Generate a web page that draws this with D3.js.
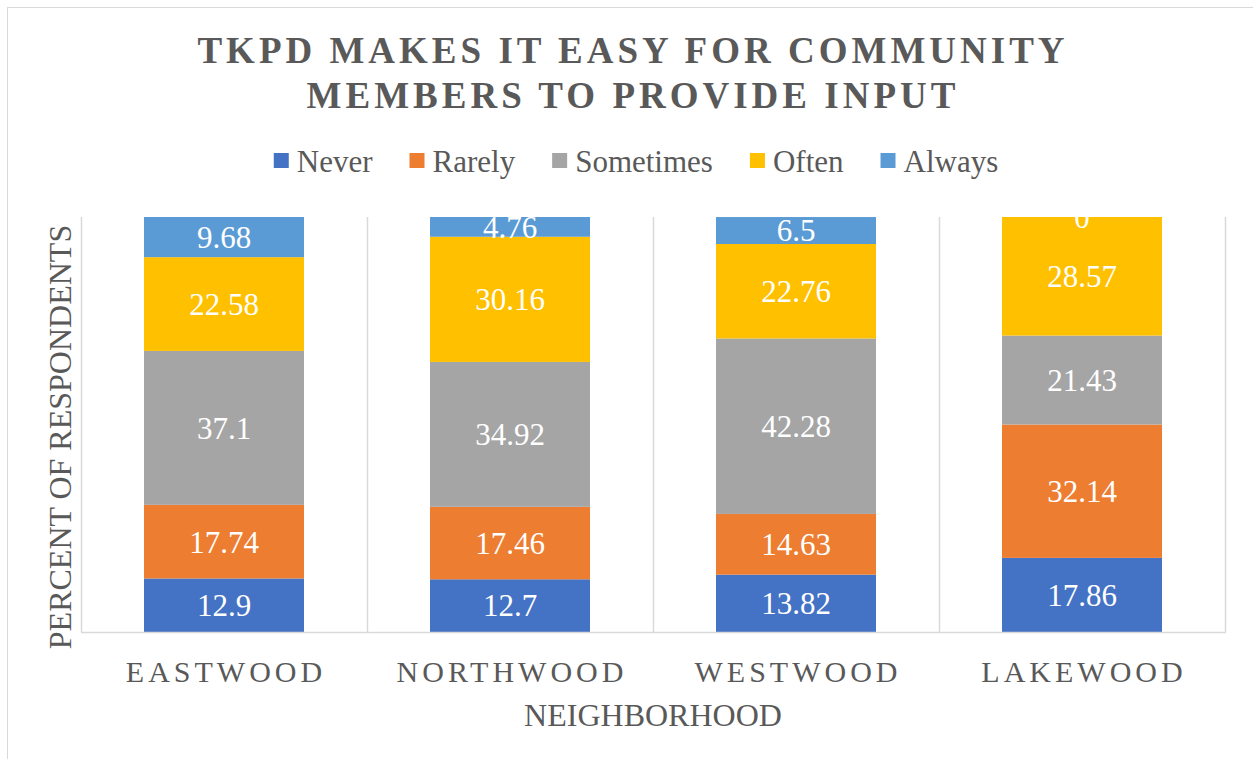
<!DOCTYPE html>
<html>
<head>
<meta charset="utf-8">
<script src="https://cdn.jsdelivr.net/npm/d3@7"></script>
<style>
  body { margin: 0; background: #fff; }
  text { font-family: "Liberation Serif", "Times New Roman", serif; }
</style>
</head>
<body>
<div id="chart"></div>
<script>
// data
var neighborhoods = ["EASTWOOD", "NORTHWOOD", "WESTWOOD", "LAKEWOOD"];
var responses = ["Never", "Rarely", "Sometimes", "Often", "Always"];
var never = [12.9, 12.7, 13.82, 17.86];
var rarely = [17.74, 17.46, 14.63, 32.14];
var sometimes = [37.1, 34.92, 42.28, 21.43];
var often = [22.58, 30.16, 22.76, 28.57];
var always = [9.68, 4.76, 6.5, 0];
var colors = ["#4472C4", "#ED7D31", "#A5A5A5", "#FFC000", "#5B9BD5"];

var width = 1253, height = 759;
var margin = {left: 81, right: 28, top: 217, bottom: 127};

// build rows for d3.stack
var seriesValues = [never, rarely, sometimes, often, always];
var rows = neighborhoods.map(function(n, i) {
    var r = {name: n};
    responses.forEach(function(k, j) { r[k] = seriesValues[j][i]; });
    return r;
});

var svg = d3.select("#chart").append("svg")
    .attr("width", width)
    .attr("height", height);

// chart area border
svg.append("rect")
    .attr("x", 7.5).attr("y", 7.5)
    .attr("width", width + 20).attr("height", height + 20)
    .attr("fill", "none")
    .attr("stroke", "#d9d9d9");

var x = d3.scaleBand()
    .domain(neighborhoods)
    .range([margin.left, width - margin.right]);

var y = d3.scaleLinear()
    .domain([0, 100])
    .range([height - margin.bottom, margin.top]);

// vertical gridlines at category boundaries
var bounds = neighborhoods.map(function(n) { return x(n); }).concat([x.range()[1]]);
svg.selectAll(".vgrid")
    .data(bounds)
    .enter()
    .append("line")
    .attr("x1", d => d + 0.5).attr("x2", d => d + 0.5)
    .attr("y1", y(100)).attr("y2", y(0))
    .attr("stroke", "#d9d9d9")
    .attr("stroke-width", 1.5);

var stacked = d3.stack().keys(responses)(rows);
var barW = 160;

var groups = svg.selectAll(".series")
    .data(stacked)
    .enter()
    .append("g")
    .attr("fill", (d, i) => colors[i]);

groups.selectAll("rect")
    .data(d => d)
    .enter()
    .append("rect")
    .attr("x", d => x(d.data.name) + (x.bandwidth() - barW) / 2)
    .attr("y", d => y(d[1]))
    .attr("width", barW)
    .attr("height", d => y(d[0]) - y(d[1]));

// category axis line
svg.append("line")
    .attr("x1", margin.left).attr("x2", x.range()[1] + 1)
    .attr("y1", y(0) + 0.5).attr("y2", y(0) + 0.5)
    .attr("stroke", "#d9d9d9")
    .attr("stroke-width", 1.5);

// data labels, clipped to the plot area
svg.append("clipPath").attr("id", "plotclip")
    .append("rect")
    .attr("x", margin.left).attr("y", y(100))
    .attr("width", x.range()[1] - margin.left)
    .attr("height", y(0) - y(100));

var labels = svg.append("g").attr("clip-path", "url(#plotclip)");
stacked.forEach(function(s) {
    labels.selectAll(null)
        .data(s)
        .enter()
        .append("text")
        .attr("x", d => x(d.data.name) + x.bandwidth() / 2)
        .attr("y", d => (y(d[0]) + y(d[1])) / 2)
        .attr("dy", "0.35em")
        .attr("text-anchor", "middle")
        .attr("fill", "#fff")
        .style("font-size", "31px")
        .text(d => d[1] - d[0] === 0 ? "0" : +(d[1] - d[0]).toFixed(2));
});

// category labels
svg.selectAll(".cat")
    .data(neighborhoods)
    .enter()
    .append("text")
    .attr("x", d => x(d) + x.bandwidth() / 2 + 2)
    .attr("y", 682)
    .attr("text-anchor", "middle")
    .attr("fill", "#595959")
    .style("font-size", "30px")
    .style("letter-spacing", "4px")
    .text(d => d);

// axis titles
svg.append("text")
    .attr("x", (margin.left + x.range()[1]) / 2)
    .attr("y", 726)
    .attr("text-anchor", "middle")
    .attr("fill", "#595959")
    .style("font-size", "32px")
    .text("NEIGHBORHOOD");

svg.append("text")
    .attr("transform", "translate(71,437) rotate(-90)")
    .attr("text-anchor", "middle")
    .attr("fill", "#595959")
    .style("font-size", "32px")
    .text("PERCENT OF RESPONDENTS");

// title
var titleLines = ["TKPD MAKES IT EASY FOR COMMUNITY", "MEMBERS TO PROVIDE INPUT"];
svg.selectAll(".title")
    .data(titleLines)
    .enter()
    .append("text")
    .attr("x", 633)
    .attr("y", (d, i) => 63 + i * 45)
    .attr("text-anchor", "middle")
    .attr("fill", "#595959")
    .style("font-size", "37px")
    .style("font-weight", "bold")
    .style("letter-spacing", "4px")
    .text(d => d);

// legend
var legend = svg.append("g");
var lx = 0, gap = 37;
responses.forEach(function(r, i) {
    var item = legend.append("g").attr("transform", "translate(" + lx + ",0)");
    item.append("rect")
        .attr("x", 0).attr("y", -8)
        .attr("width", 15).attr("height", 15)
        .attr("fill", colors[i]);
    var t = item.append("text")
        .attr("x", 23).attr("y", 0)
        .attr("dy", "0.35em")
        .attr("fill", "#595959")
        .style("font-size", "31px")
        .text(r);
    lx += 23 + t.node().getComputedTextLength() + gap;
});
var legendW = lx - gap;
legend.attr("transform", "translate(" + (636 - legendW / 2) + ",161)");
</script>
</body>
</html>
